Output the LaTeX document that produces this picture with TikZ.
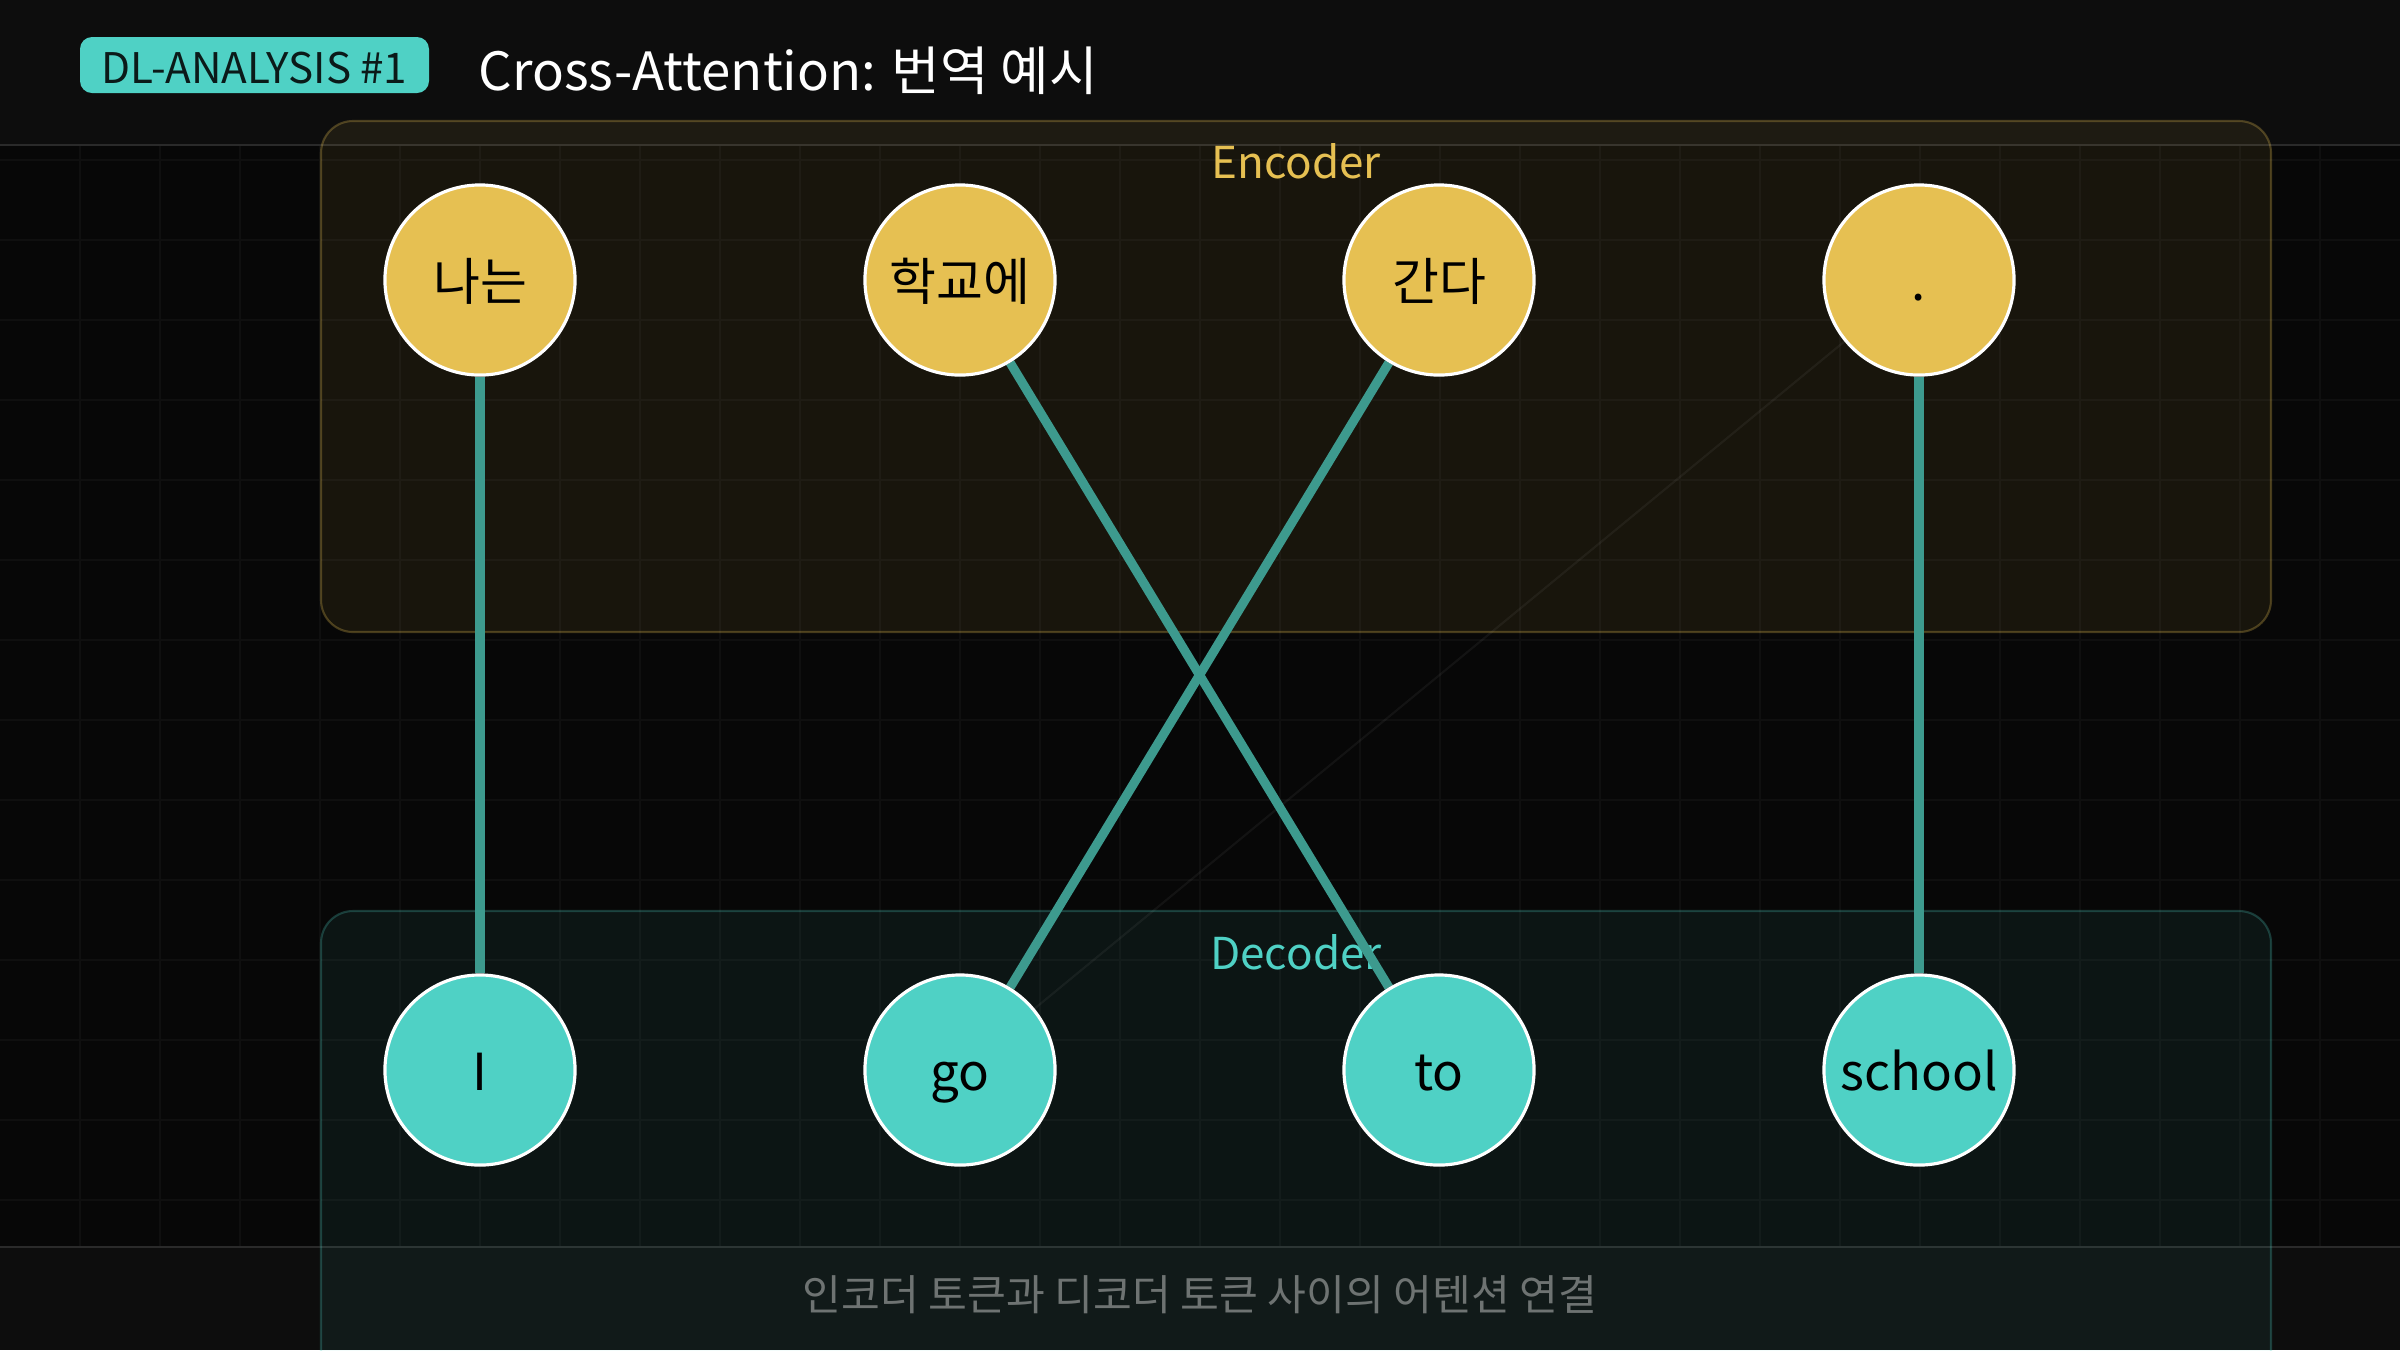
\documentclass[tikz,border=0pt]{standalone}
\usepackage{fontspec}
\setmainfont{Noto Sans CJK KR}
\pgfdeclarelayer{bg}
\pgfdeclarelayer{links}
\pgfsetlayers{bg,links,main}
\definecolor{bgdark}{HTML}{070707}
\definecolor{band}{HTML}{0D0D0D}
\definecolor{bandline}{HTML}{2A2A2A}
\definecolor{gridc}{HTML}{0F0F0F}
\definecolor{gold}{HTML}{E6C052}
\definecolor{tealc}{HTML}{4FD1C5}
\definecolor{attnc}{HTML}{3D9A8E}
\definecolor{capc}{HTML}{6E7372}
\definecolor{badgetext}{HTML}{0B1A19}
\begin{document}
\begin{tikzpicture}[x=0.01cm,y=-0.01cm,
  tok/.style={circle, minimum size=1.9cm, inner sep=0pt, draw=white, line width=0.9pt,
    text=black, font=\fontsize{14.5}{17}\selectfont, text height=0.55cm, text depth=0.15cm},
  enc/.style={tok, fill=gold},
  dec/.style={tok, fill=tealc},
  attn/.style={draw=attnc, line width=2.6pt},
  ghost/.style={draw=white, draw opacity=0.05, line width=0.6pt},
  panel/.style={rounded corners=0.32cm, line width=0.6pt},
  gridline/.style={draw=gridc, line width=0.5pt},
  bandrule/.style={draw=bandline, line width=0.8pt}]
\useasboundingbox (0,0) rectangle (2400,1350);
\begin{pgfonlayer}{bg}
  \fill[bgdark] (0,0) rectangle (2400,1350);
  \fill[band] (0,0) rectangle (2400,145);
  \fill[band] (0,1247) rectangle (2400,1350);
  \foreach \x in {80,160,...,2320} \draw[gridline] (\x,146) -- (\x,1246);
  \foreach \y in {160,240,...,1200} \draw[gridline] (0,\y) -- (2400,\y);
  \draw[bandrule] (0,145) -- (2400,145);
  \draw[bandrule] (0,1247) -- (2400,1247);
  % panels
  \draw[panel, fill=gold, fill opacity=0.08, draw=gold, draw opacity=0.28] (321,121) rectangle (2271,632);
  \draw[panel, fill=tealc, fill opacity=0.07, draw=tealc, draw opacity=0.25] (321,911) rectangle (2271,1420);
  \node[anchor=base, text=gold, inner sep=0pt, font=\fontsize{12.5}{15}\selectfont] (enclabel) at (1296,178) {Encoder};
  \node[anchor=base, text=tealc, inner sep=0pt, font=\fontsize{12.5}{15}\selectfont] (declabel) at (1296,969) {Decoder};
  % header
  \fill[tealc, rounded corners=0.12cm] (80,37) rectangle (429,93);
  \node[anchor=base, text=badgetext, inner sep=0pt, font=\fontsize{12}{14}\selectfont] (badge) at (254.5,83) {DL-ANALYSIS \#1};
  \node[anchor=base west, text=white, inner sep=0pt, font=\fontsize{15}{18}\selectfont] (title) at (478,90) {Cross-Attention: 번역 예시};
  \node[text=capc, inner sep=0pt, font=\fontsize{12}{14}\selectfont] (caption) at (1200,1295) {인코더 토큰과 디코더 토큰 사이의 어텐션 연결};
\end{pgfonlayer}
% tokens
\node[enc] (e1) at (480,280) {나는};
\node[enc] (e2) at (960,280) {학교에};
\node[enc] (e3) at (1439,280) {간다};
\node[enc] (e4) at (1919,280) {.};
\node[dec] (d1) at (480,1070) {I};
\node[dec] (d2) at (960,1070) {go};
\node[dec] (d3) at (1439,1070) {to};
\node[dec] (d4) at (1919,1070) {school};
\begin{pgfonlayer}{links}
  \draw[ghost] (d2) -- (e4);
  \draw[attn] (e1) -- (d1);
  \draw[attn] (e2) -- (d3);
  \draw[attn] (e3) -- (d2);
  \draw[attn] (e4) -- (d4);
\end{pgfonlayer}
\end{tikzpicture}
\end{document}
